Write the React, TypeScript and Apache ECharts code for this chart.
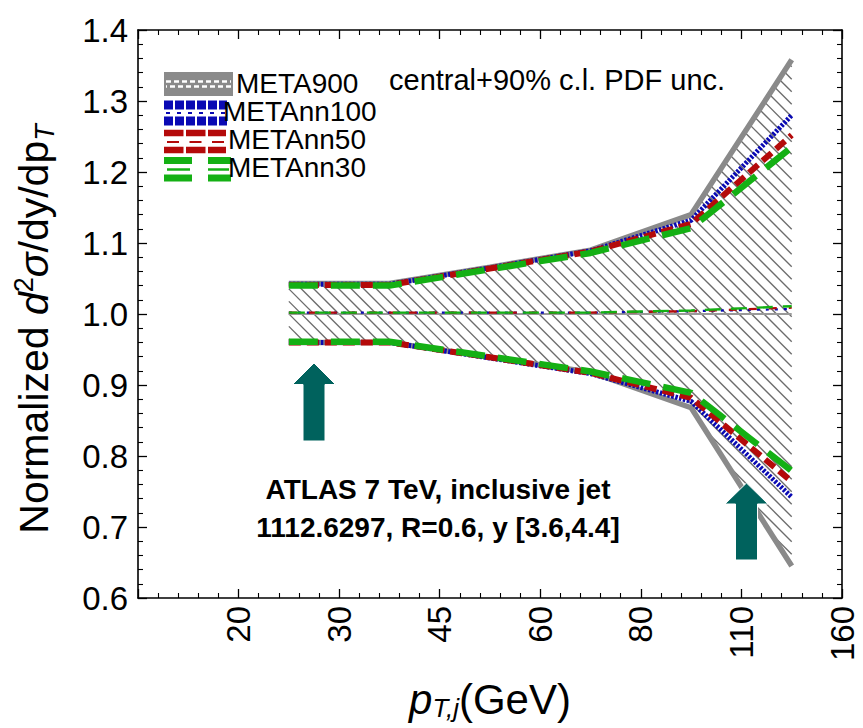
import React, { useEffect, useRef } from 'react';
import * as echarts from 'echarts';

// x-axis bin edges (labels at evenly spaced positions 1..7)
const binLabels = ['', '20', '30', '45', '60', '80', '110', '160'];
// each point sits at the centre of a pT bin: 20-30, 30-45, 45-60, 60-80, 80-110, 110-160
const binIndex = [1, 2, 3, 4, 5, 6];

const meta900Upper = [1.043, 1.043, 1.066, 1.09, 1.14, 1.358];
const meta900Central = [1.0, 1.0, 1.0, 1.0, 1.0, 1.0];
const meta900Lower = [0.96, 0.96, 0.939, 0.918, 0.868, 0.645];

const ann100Upper = [1.042, 1.042, 1.065, 1.089, 1.132, 1.28];
const ann100Central = [1.002, 1.002, 1.002, 1.002, 1.004, 1.007];
const ann100Lower = [0.96, 0.96, 0.938, 0.916, 0.877, 0.742];

const ann50Upper = [1.041, 1.041, 1.064, 1.088, 1.127, 1.252];
const ann50Central = [1.002, 1.002, 1.002, 1.002, 1.004, 1.009];
const ann50Lower = [0.96, 0.96, 0.939, 0.917, 0.882, 0.764];

const ann30Upper = [1.04, 1.04, 1.063, 1.086, 1.121, 1.235];
const ann30Central = [1.002, 1.002, 1.002, 1.002, 1.005, 1.011];
const ann30Lower = [0.961, 0.961, 0.94, 0.919, 0.889, 0.779];

const FONT = '"Liberation Sans", Arial, Helvetica, sans-serif';
const GRAY = '#8a8a8a';
const BLUE = '#0a0ab4';
const RED = '#b40a0a';
const GREEN = '#14b014';
const TEAL = '#00625d';
const HATCH_STEP = 12.5;

const pts = (vals: number[]) => vals.map((v, i) => [binIndex[i] + 0.5, v]);

function line(name: string, vals: number[], color: string, width: number, type: any, z = 2) {
  return {
    type: 'line',
    name,
    data: pts(vals),
    symbol: 'none',
    z,
    silent: true,
    lineStyle: { color, width, type, cap: 'butt' },
  };
}

// diagonal hatching of the META900 band, clipped to the band polygon
function renderHatch(_params: any, api: any) {
  const up = meta900Upper.map((v, i) => api.coord([binIndex[i] + 0.5, v]));
  const lo = meta900Lower.map((v, i) => api.coord([binIndex[i] + 0.5, v]));
  const poly = [...up, ...lo.slice().reverse()];
  let xmin = Infinity, xmax = -Infinity, ymin = Infinity, ymax = -Infinity;
  poly.forEach((p: number[]) => {
    xmin = Math.min(xmin, p[0]);
    xmax = Math.max(xmax, p[0]);
    ymin = Math.min(ymin, p[1]);
    ymax = Math.max(ymax, p[1]);
  });
  const children: any[] = [];
  const cStart = Math.floor((xmin - ymax) / HATCH_STEP) * HATCH_STEP;
  for (let c = cStart; c <= xmax - ymin; c += HATCH_STEP) {
    const xs: number[] = [];
    for (let k = 0; k < poly.length; k++) {
      const a = poly[k];
      const b = poly[(k + 1) % poly.length];
      const fa = a[0] - a[1] - c;
      const fb = b[0] - b[1] - c;
      if ((fa <= 0 && fb > 0) || (fa > 0 && fb <= 0)) {
        const u = fa / (fa - fb);
        xs.push(a[0] + u * (b[0] - a[0]));
      }
    }
    xs.sort((m, n) => m - n);
    for (let k = 0; k + 1 < xs.length; k += 2) {
      children.push({
        type: 'line',
        shape: { x1: xs[k], y1: xs[k] - c, x2: xs[k + 1], y2: xs[k + 1] - c },
        style: { stroke: '#6c6c6c', lineWidth: 1.35 },
      });
    }
  }
  return { type: 'group', children };
}

export default function App() {
  const ref = useRef<HTMLDivElement>(null);
  useEffect(() => {
    document.body.style.margin = '0';
    const chart = echarts.init(ref.current!, null, { renderer: 'svg' });
    const axisCommon = {
      axisLine: { show: true, onZero: false, lineStyle: { color: '#000', width: 1.6 } },
      axisTick: { show: true, inside: true, length: 9, lineStyle: { color: '#000', width: 1.3 } },
      minorTick: { show: true, splitNumber: 5, length: 5, lineStyle: { color: '#000', width: 1.1 } },
      splitLine: { show: false },
      minorSplitLine: { show: false },
    };
    const tickFont = { fontFamily: FONT, fontSize: 33, color: '#000' };

    const legendRows: any[] = [
      // META900
      { type: 'rect', shape: { x: 164, y: 72, width: 69, height: 24 }, style: { fill: GRAY } },
      { type: 'line', shape: { x1: 166, y1: 81.5, x2: 231, y2: 81.5 }, style: { stroke: '#fff', lineWidth: 2.5, lineDash: [5, 3] } },
      { type: 'line', shape: { x1: 166, y1: 86.5, x2: 231, y2: 86.5 }, style: { stroke: '#fff', lineWidth: 2.5, lineDash: [5, 3], lineDashOffset: 4 } },
      // METAnn100
      { type: 'line', shape: { x1: 164, y1: 105, x2: 227, y2: 105 }, style: { stroke: BLUE, lineWidth: 9, lineDash: [9, 2] } },
      { type: 'line', shape: { x1: 166, y1: 113, x2: 227, y2: 113 }, style: { stroke: BLUE, lineWidth: 2, lineDash: [4, 7] } },
      { type: 'line', shape: { x1: 164, y1: 121, x2: 227, y2: 121 }, style: { stroke: BLUE, lineWidth: 9, lineDash: [9, 2] } },
      // METAnn50
      { type: 'line', shape: { x1: 164, y1: 133, x2: 226, y2: 133 }, style: { stroke: RED, lineWidth: 6.5, lineDash: [19.5, 2.5] } },
      { type: 'line', shape: { x1: 167, y1: 142, x2: 224, y2: 142 }, style: { stroke: RED, lineWidth: 2, lineDash: [12, 10.5] } },
      { type: 'line', shape: { x1: 164, y1: 150, x2: 226, y2: 150 }, style: { stroke: RED, lineWidth: 6.5, lineDash: [19.5, 2.5] } },
      // METAnn30
      { type: 'line', shape: { x1: 164, y1: 160.5, x2: 231, y2: 160.5 }, style: { stroke: GREEN, lineWidth: 7, lineDash: [28, 16] } },
      { type: 'line', shape: { x1: 167, y1: 169.5, x2: 229, y2: 169.5 }, style: { stroke: GREEN, lineWidth: 2.5, lineDash: [23, 18] } },
      { type: 'line', shape: { x1: 164, y1: 178, x2: 231, y2: 178 }, style: { stroke: GREEN, lineWidth: 7, lineDash: [28, 16] } },
    ];
    const legendTexts = [
      { t: 'META900', x: 236, y: 83 },
      { t: 'METAnn100', x: 223, y: 111.5 },
      { t: 'METAnn50', x: 228, y: 139.5 },
      { t: 'METAnn30', x: 228, y: 167.5 },
    ].map((d) => ({
      type: 'text',
      x: d.x,
      y: d.y,
      z: 10,
      style: { text: d.t, fontFamily: FONT, fontSize: 28, lineHeight: 26, fill: '#000', align: 'left', verticalAlign: 'middle' },
    }));

    const arrow = (cx: number, tip: number, base: number, bottom: number) => ({
      type: 'polygon',
      z: 10,
      shape: {
        points: [
          [cx, tip],
          [cx + 21.5, base],
          [cx + 11, base],
          [cx + 11, bottom],
          [cx - 11, bottom],
          [cx - 11, base],
          [cx - 21.5, base],
        ],
      },
      style: { fill: TEAL, stroke: '#fff', lineWidth: 1 },
    });

    chart.setOption({
      animation: false,
      grid: { left: 138, right: 21, top: 30, bottom: 130 },
      xAxis: [
        {
          type: 'value',
          min: 0,
          max: 7,
          interval: 1,
          position: 'bottom',
          ...axisCommon,
          axisLabel: {
            ...tickFont,
            rotate: 90,
            margin: 8,
            formatter: (v: number) => binLabels[Math.round(v)] ?? '',
          },
          name: '{i|p}{s|T,j}{n|(GeV)}',
          nameLocation: 'middle',
          nameGap: 79,
          nameTextStyle: {
            rich: {
              i: { fontFamily: FONT, fontSize: 42, fontStyle: 'italic', color: '#000', lineHeight: 44 },
              s: { fontFamily: FONT, fontSize: 26, fontStyle: 'italic', color: '#000', verticalAlign: 'bottom', lineHeight: 25 },
              n: { fontFamily: FONT, fontSize: 42, color: '#000', lineHeight: 44 },
            },
          },
        },
        {
          type: 'value',
          min: 0,
          max: 7,
          interval: 1,
          position: 'top',
          ...axisCommon,
          axisLabel: { show: false },
        },
      ],
      yAxis: [
        {
          type: 'value',
          min: 0.6,
          max: 1.4,
          interval: 0.1,
          position: 'left',
          ...axisCommon,
          axisLabel: { ...tickFont, margin: 10, formatter: (v: number) => v.toFixed(1) },
          name: '{n|Normalized }{i|d}{p|2}{i|σ}{n|/dy/dp}{s|T}',
          nameLocation: 'middle',
          nameRotate: 90,
          nameGap: 80,
          nameTextStyle: {
            padding: [0, 30, 0, 0],
            rich: {
              n: { fontFamily: FONT, fontSize: 41, color: '#000', lineHeight: 48 },
              i: { fontFamily: FONT, fontSize: 41, fontStyle: 'italic', color: '#000', lineHeight: 48 },
              p: { fontFamily: FONT, fontSize: 27, color: '#000', verticalAlign: 'top', lineHeight: 26 },
              s: { fontFamily: FONT, fontSize: 27, fontStyle: 'italic', color: '#000', verticalAlign: 'bottom', lineHeight: 28 },
            },
          },
        },
        {
          type: 'value',
          min: 0.6,
          max: 1.4,
          interval: 0.1,
          position: 'right',
          ...axisCommon,
          axisLabel: { show: false },
        },
      ],
      series: [
        {
          type: 'custom',
          name: 'hatch',
          coordinateSystem: 'cartesian2d',
          silent: true,
          z: 1,
          data: [[binIndex[0] + 0.5, meta900Central[0]]],
          encode: { x: 0, y: 1 },
          renderItem: renderHatch,
        },
        line('META900 up', meta900Upper, GRAY, 5.5, 'solid'),
        line('META900 lo', meta900Lower, GRAY, 5.5, 'solid'),
        line('META900 c', meta900Central, '#9a9a9a', 2, 'solid'),
        line('METAnn100 up', ann100Upper, BLUE, 5, [2.5, 1.5]),
        line('METAnn100 lo', ann100Lower, BLUE, 5, [2.5, 1.5]),
        line('METAnn100 c', ann100Central, BLUE, 2.2, [3, 6]),
        line('METAnn50 up', ann50Upper, RED, 6, [12, 6]),
        line('METAnn50 lo', ann50Lower, RED, 6, [12, 6]),
        line('METAnn50 c', ann50Central, RED, 2.4, [8, 12]),
        line('METAnn30 up', ann30Upper, GREEN, 6.5, [29, 13]),
        line('METAnn30 lo', ann30Lower, GREEN, 6.5, [29, 13]),
        line('METAnn30 c', ann30Central, GREEN, 2.4, [16, 10]),
      ],
      graphic: [
        ...legendRows.map((g) => ({ ...g, z: 10 })),
        ...legendTexts,
        {
          type: 'text',
          x: 389,
          y: 80,
          z: 10,
          style: { text: 'central+90% c.l. PDF unc.', fontFamily: FONT, fontSize: 29, fill: '#000', align: 'left', verticalAlign: 'middle' },
        },
        {
          type: 'text',
          x: 438,
          y: 489,
          z: 10,
          style: { text: 'ATLAS 7 TeV, inclusive jet', fontFamily: FONT, fontSize: 28, fontWeight: 'bold', fill: '#000', align: 'center', verticalAlign: 'middle' },
        },
        {
          type: 'text',
          x: 438,
          y: 527,
          z: 10,
          style: { text: '1112.6297, R=0.6, y [3.6,4.4]', fontFamily: FONT, fontSize: 28, fontWeight: 'bold', fill: '#000', align: 'center', verticalAlign: 'middle' },
        },
        arrow(314, 363, 384.5, 441),
        arrow(746.5, 483, 504, 560),
      ],
    });
    return () => chart.dispose();
  }, []);
  return <div ref={ref} style={{ width: 863, height: 728 }} />;
}
